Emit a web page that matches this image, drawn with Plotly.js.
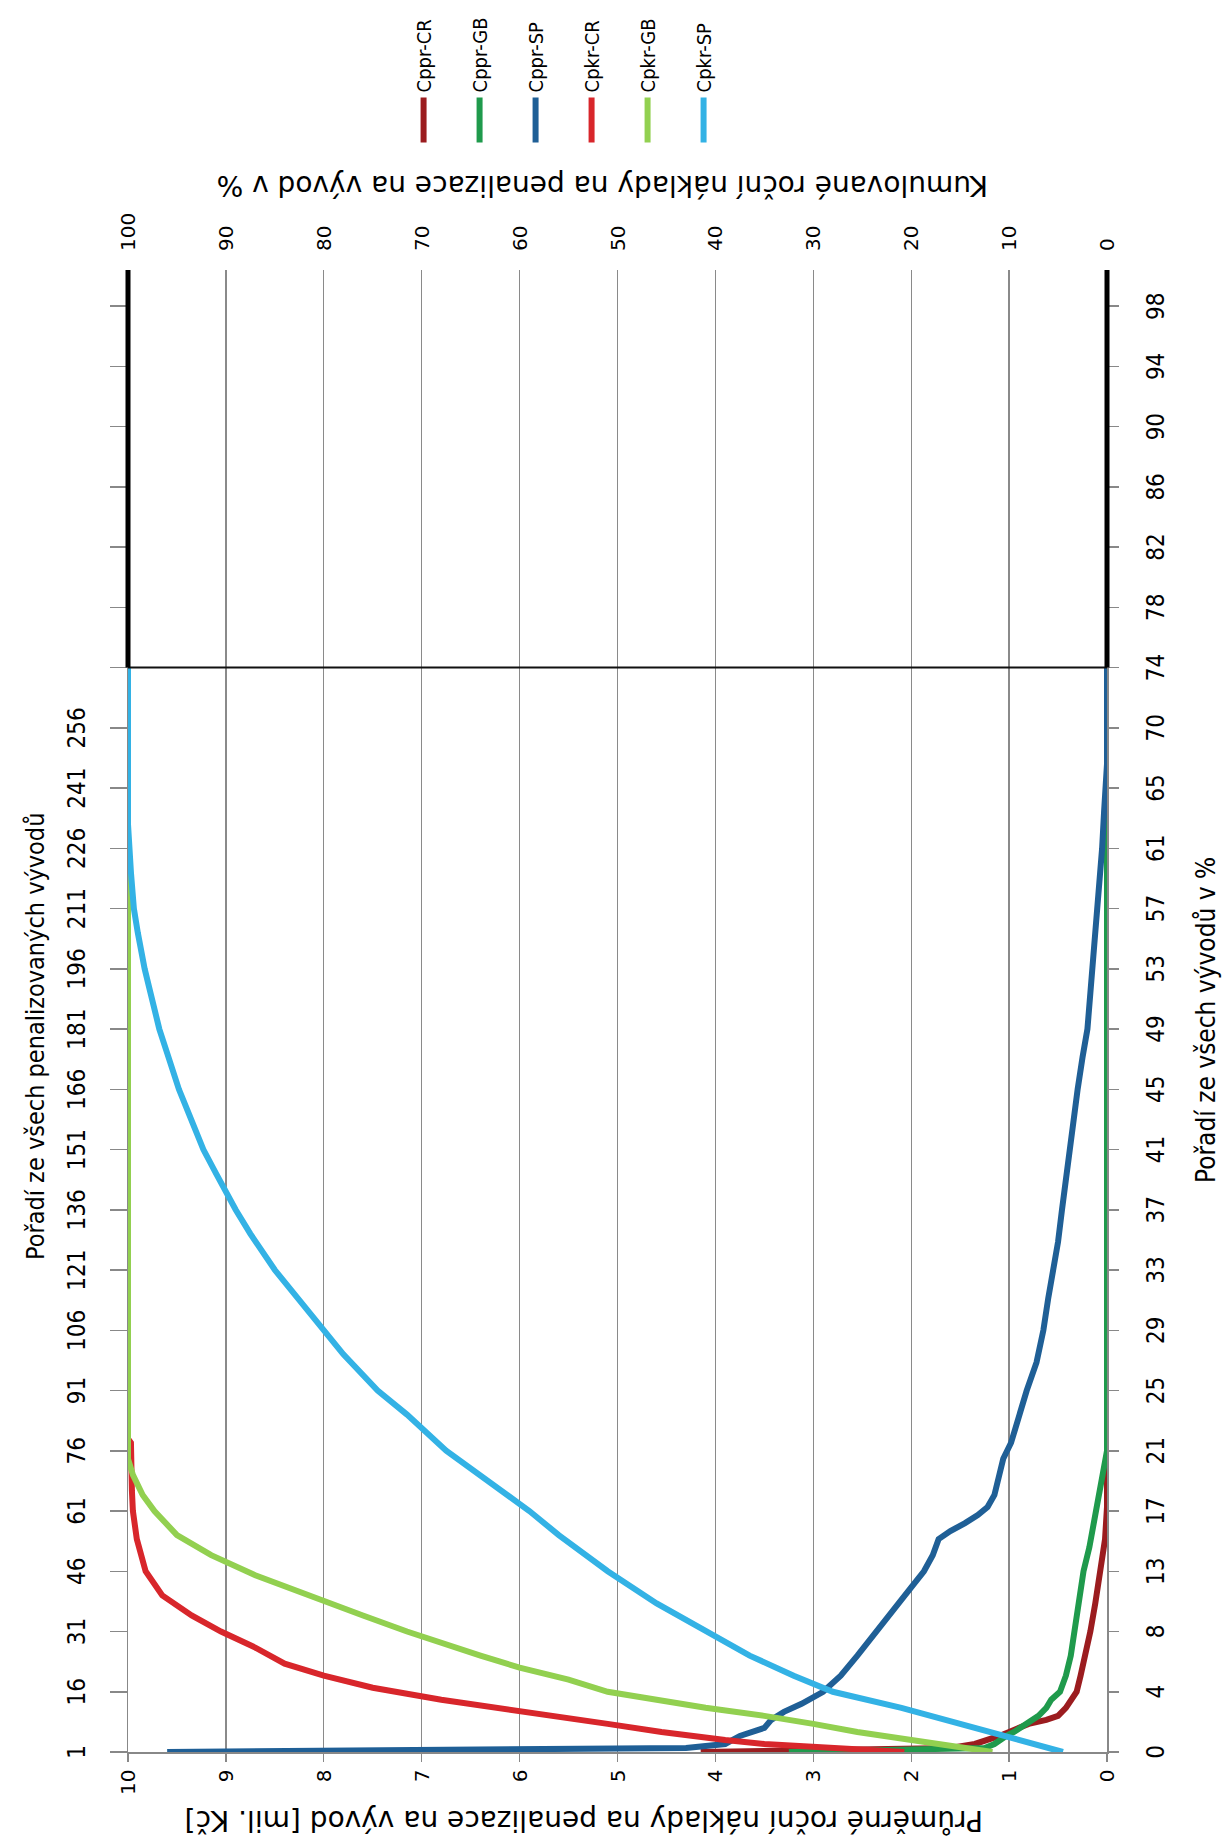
<!DOCTYPE html>
<html><head><meta charset="utf-8">
<script src="https://cdn.plot.ly/plotly-3.0.1.min.js"></script>
<style>
html,body{margin:0;padding:0;background:#fff;overflow:hidden;width:1226px;height:1836px;}
#wrap{position:absolute;left:0;top:0;width:1836px;height:1226px;transform-origin:0 0;transform:translate(0px,1836px) rotate(-90deg);}
#chart{width:1836px;height:1226px;}
</style></head><body><div id="wrap"><div id="chart"></div></div>
<script>
// ---- data (rank of outlet among penalized outlets) ----
const cpprCR_rank = [1,2,3,4,5,6,7,8,9,10,12,14,16,20,25,31,38,46,50,54,62,271];
const cpprCR_val  = [4.15,1.6,1.35,1.2,1.1,1.0,0.9,0.8,0.62,0.5,0.42,0.36,0.31,0.27,0.22,0.17,0.12,0.07,0.03,0.02,0,0];

const cpprGB_rank = [1,2,3,4,5,6,8,10,12,14,16,20,25,31,38,46,52,56,61,66,70,74,76,271];
const cpprGB_val  = [3.25,1.25,1.15,1.1,1.03,0.95,0.82,0.7,0.62,0.57,0.48,0.42,0.37,0.33,0.28,0.24,0.18,0.15,0.1,0.07,0.04,0.01,0,0];

const cpprSP_rank = [1,2,3,5,7,9,11,13,16,20,25,31,36,42,46,50,54,56,58,60,62,65,70,74,78,85,91,98,106,114,121,128,136,144,151,158,166,174,181,190,196,204,211,218,226,235,241,247,271];
const cpprSP_val  = [9.6,4.3,3.9,3.75,3.5,3.43,3.3,3.12,2.9,2.72,2.55,2.35,2.2,2.0,1.87,1.78,1.72,1.6,1.45,1.32,1.22,1.15,1.1,1.06,0.98,0.9,0.82,0.72,0.65,0.6,0.55,0.5,0.46,0.42,0.38,0.34,0.3,0.25,0.2,0.17,0.15,0.12,0.09,0.07,0.05,0.03,0.02,0,0];

const cpkrCR_rank = [1,2,3,4,5,6,8,10,12,14,17,20,23,27,31,35,40,46,54,61,66,78,79,271];
const cpkrCR_pct  = [20.7,29,35,39,42.5,45.5,51,57,62,68,75,80,84,87,90.5,93.5,96.5,98.2,99.1,99.5,99.6,99.7,100,100];

const cpkrGB_rank = [1,2,3,4,5,6,8,10,12,14,16,19,22,25,28,31,35,40,45,50,55,61,65,70,74,271];
const cpkrGB_pct  = [11.7,14.5,17.5,20.5,23,25.5,30,35,41,46.5,51,55,60,64,68,71.5,76,81.5,87,91.5,95,97.3,98.5,99.5,100,100];

const cpkrSP_rank = [1,3,5,8,12,16,20,25,31,38,46,55,61,70,76,85,91,100,106,115,121,130,136,145,151,160,166,175,181,190,196,205,211,220,226,232,271];
const cpkrSP_pct  = [4.5,7.5,10.5,15,21,28,32,36.5,41,46,51,56,59,64,67.5,71.5,74.5,78,80,83,85,87.5,89,91,92.3,93.8,94.8,96,96.8,97.7,98.3,99,99.4,99.7,99.9,100,100];

// ---- tick labels ----
const rankTickVals   = [1,16,31,46,61,76,91,106,121,136,151,166,181,196,211,226,241,256,271,286,301,316,331,346,361];
const pctTickText    = ['0','4','8','13','17','21','25','29','33','37','41','45','49','53','57','61','65','70','74','78','82','86','90','94','98'];
const penalTickText  = ['1','16','31','46','61','76','91','106','121','136','151','166','181','196','211','226','241','256','','','','','','',''];
const lastPenalized = 271;
const allOutlets = 370;

const seriesNames = ['Cppr-CR','Cppr-GB','Cppr-SP','Cpkr-CR','Cpkr-GB','Cpkr-SP'];
const seriesColors = ['#9b1c1f','#1f9a4c','#1f5f96','#d8262b','#92d050','#33b2e5'];

const NARROW = '"DejaVu Sans Condensed", "Liberation Sans Narrow", sans-serif';
const SANS = '"DejaVu Sans", Verdana, sans-serif';

const xs = [cpprCR_rank,cpprGB_rank,cpprSP_rank,cpkrCR_rank,cpkrGB_rank,cpkrSP_rank];
const ys = [cpprCR_val,cpprGB_val,cpprSP_val,cpkrCR_pct,cpkrGB_pct,cpkrSP_pct];

const traces = seriesNames.map((n,i)=>({
  type:'scatter', mode:'lines', name:n, x:xs[i], y:ys[i],
  xaxis: i<3 ? 'x' : 'x2', yaxis: i<3 ? 'y' : 'y2',
  line:{color:seriesColors[i], width:6},
  legendgroup:'g'+i, hoverinfo:'skip'
}));

const layout = {
  width:1836, height:1226,
  margin:{l:84, r:269, t:128, b:119, pad:0},
  paper_bgcolor:'#ffffff', plot_bgcolor:'#ffffff',
  showlegend:true,
  legend:{x:1.082, xanchor:'left', y:0.718, yanchor:'top', itemwidth:45, tracegroupgap:27,
          font:{family:NARROW, size:20, color:'#000'}, bgcolor:'rgba(0,0,0,0)', borderwidth:0},
  xaxis:{range:[1,allOutlets], tickmode:'array', tickvals:rankTickVals, ticktext:pctTickText,
         ticks:'outside', ticklen:10, tickcolor:'#888', tickwidth:1.5, ticklabelstandoff:17,
         showline:true, linecolor:'#888', linewidth:1.5, showgrid:false, zeroline:false,
         tickangle:0, automargin:false, tickfont:{family:NARROW, size:24, color:'#000'}},
  xaxis2:{range:[1,allOutlets], overlaying:'x', side:'top', anchor:'y2', tickmode:'array', tickvals:rankTickVals, ticktext:penalTickText,
         ticks:'outside', ticklen:17, tickcolor:'#888', tickwidth:1.5, ticklabelstandoff:15,
         showline:true, linecolor:'#888', linewidth:1.5, showgrid:false, zeroline:false,
         tickangle:0, automargin:false, tickfont:{family:NARROW, size:24, color:'#000'}},
  yaxis:{range:[0,10], dtick:1, tick0:0, ticks:'outside', ticklen:8, tickcolor:'#888', tickwidth:1.2,
         showgrid:true, gridcolor:'#8a8a8a', gridwidth:1.2, zeroline:false,
         showline:true, linecolor:'#888', linewidth:1.5, ticklabelstandoff:4,
         automargin:false, tickfont:{family:SANS, size:20, color:'#000'}},
  yaxis2:{range:[0,100], dtick:10, tick0:0, overlaying:'y', side:'right', anchor:'x2', ticks:'',
          showgrid:false, zeroline:false, showline:false, ticklabelstandoff:18,
          automargin:false, tickfont:{family:SANS, size:20, color:'#000'}},
  shapes:[
    {type:'line', xref:'x', yref:'paper', x0:lastPenalized, x1:lastPenalized, y0:0, y1:1, line:{color:'#111', width:2}},
    {type:'line', xref:'x', yref:'paper', x0:lastPenalized, x1:allOutlets, y0:1, y1:1, line:{color:'#000', width:5}},
    {type:'line', xref:'x', yref:'paper', x0:lastPenalized, x1:allOutlets, y0:0, y1:0, line:{color:'#000', width:5}}
  ],
  annotations:[
    {text:'Pořadí ze všech vývodů v %', xref:'paper', yref:'paper', x:0.494, y:0, yshift:-99, xanchor:'center', yanchor:'middle', showarrow:false, font:{family:NARROW, size:26, color:'#000'}},
    {text:'Pořadí ze všech penalizovaných vývodů', xref:'paper', yref:'paper', x:0.483, y:1, yshift:93, xanchor:'center', yanchor:'middle', showarrow:false, font:{family:NARROW, size:25, color:'#000'}},
    {text:'Průměrné roční náklady na penalizace na vývod [mil. Kč]', xref:'paper', yref:'paper', x:0, xshift:-69, y:(1107-584)/979, xanchor:'center', yanchor:'middle', textangle:-90, showarrow:false, font:{family:SANS, size:28, color:'#000'}},
    {text:'Kumulované roční náklady na penalizace na vývod v %', xref:'paper', yref:'paper', x:1, xshift:84, y:(1107-603)/979, xanchor:'center', yanchor:'middle', textangle:-90, showarrow:false, font:{family:SANS, size:28, color:'#000'}}
  ]
};

Plotly.newPlot('chart', traces, layout, {displayModeBar:false, responsive:false, staticPlot:true});
</script></body></html>
